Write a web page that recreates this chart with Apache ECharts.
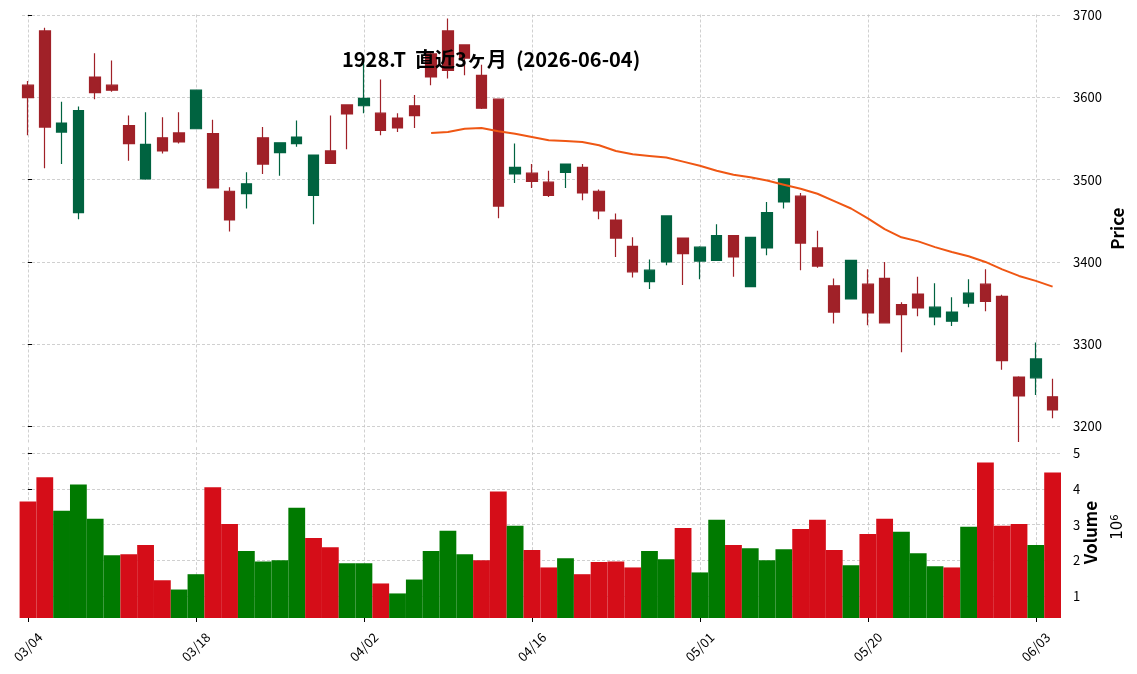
<!DOCTYPE html>
<html><head><meta charset="utf-8">
<script src="https://cdn.jsdelivr.net/npm/echarts@6/dist/echarts.min.js"></script>
<style>html,body{margin:0;padding:0;background:#fff}#c{width:1137px;height:674px}</style>
</head><body><div id="c"></div>
<script>
// ---- data ----
const dates = ['03/04','03/05','03/06','03/09','03/10','03/11','03/12','03/13','03/16','03/17',
  '03/18','03/19','03/23','03/24','03/25','03/26','03/27','03/30','03/31','04/01',
  '04/02','04/03','04/06','04/07','04/08','04/09','04/10','04/13','04/14','04/15',
  '04/16','04/17','04/20','04/21','04/22','04/23','04/24','04/27','04/28','04/30',
  '05/01','05/07','05/08','05/11','05/12','05/13','05/14','05/15','05/18','05/19',
  '05/20','05/21','05/22','05/25','05/26','05/27','05/28','05/29','06/01','06/02',
  '06/03','06/04'];
const opens  = [3615,3681,3558,3460,3625,3615,3566,3501,3551,3557,
  3562,3556,3486,3483,3551,3533,3544,3481,3535,3591,
  3590,3581,3575,3590,3653,3681,3664,3627,3598,3507,
  3508,3497,3509,3515,3486,3451,3419,3376,3400,3429,
  3401,3402,3432,3370,3417,3473,3480,3417,3371,3355,
  3373,3380,3348,3361,3333,3328,3350,3373,3358,3260,
  3259,3236];
const closes = [3600,3564,3569,3584,3606,3609,3544,3543,3535,3546,
  3609,3490,3451,3495,3519,3545,3552,3530,3520,3580,
  3599,3560,3563,3578,3625,3633,3648,3587,3468,3515,
  3498,3481,3519,3484,3462,3429,3388,3390,3456,3410,
  3418,3432,3406,3430,3460,3501,3423,3395,3339,3402,
  3338,3326,3336,3344,3345,3339,3362,3352,3280,3237,
  3282,3220];
const lows   = [3554,3514,3519,3452,3598,3607,3523,3500,3532,3544,
  3562,3490,3437,3465,3507,3505,3540,3446,3520,3537,
  3581,3554,3558,3563,3615,3623,3627,3586,3453,3496,
  3490,3479,3490,3475,3452,3406,3381,3367,3396,3372,
  3379,3402,3382,3370,3408,3465,3390,3393,3325,3355,
  3323,3326,3290,3334,3323,3322,3345,3340,3269,3181,
  3238,3210];
const highs  = [3620,3685,3595,3589,3654,3645,3578,3582,3576,3582,
  3609,3573,3491,3509,3564,3545,3572,3530,3578,3591,
  3650,3622,3581,3603,3656,3696,3664,3640,3598,3544,
  3519,3511,3519,3519,3488,3459,3430,3403,3456,3429,
  3419,3446,3432,3430,3473,3501,3484,3438,3380,3402,
  3391,3400,3351,3382,3374,3357,3379,3391,3360,3261,
  3302,3258];
const volumes = [3.65,4.33,3.39,4.13,3.17,2.14,2.17,2.43,1.44,1.18,
  1.61,4.05,3.02,2.26,1.97,2.00,3.48,2.63,2.37,1.92,
  1.92,1.35,1.07,1.46,2.26,2.83,2.17,2.00,3.93,2.97,
  2.29,1.80,2.06,1.61,1.95,1.97,1.80,2.26,2.03,2.91,
  1.66,3.14,2.43,2.34,2.00,2.31,2.88,3.14,2.29,1.86,
  2.74,3.17,2.80,2.20,1.83,1.80,2.94,4.75,2.97,3.02,
  2.43,4.47]; // x 10^6
const maStart = 24;
const ma25 = [3557,3558,3562,3563,3559,3556,3552,3548,3547,3546,
  3542,3535,3531,3529,3527,3522,3517,3511,3506,3503,
  3499,3494,3489,3483,3474,3465,3453,3440,3430,3425,
  3418,3412,3407,3400,3391,3383,3377,3370];
const xTickIdx = [0,10,20,30,40,50,60];
const priceTicks = [3200,3300,3400,3500,3600,3700];
const volTicks = [1,2,3,4,5];
const titleText = '1928.T  直近3ヶ月  (2026-06-04)';

// ---- layout ----
const X_MIN = -0.357, X_MAX = 61.5;
const PL = 22, PR = 1061, W = 1137;
const band = (PR - PL) / (X_MAX - X_MIN);
const UP = '#006340', DOWN = '#A02128', VUP = '#007a00', VDOWN = '#d50d18', MAC = '#ef5714';
const FONT = '"Noto Sans CJK JP", "Noto Sans", sans-serif';
const gridLine = {show: true, lineStyle: {color: '#c4c4c4', width: 0.8, type: [3, 2]}};

const candleData = opens.map((o, i) => [i, o, closes[i], lows[i], highs[i]]);
const volData = volumes.map((v, i) => {
  const up = i === 0 ? closes[0] >= opens[0] : closes[i] >= closes[i - 1];
  return {value: [i, v], itemStyle: {color: up ? VUP : VDOWN}};
});
const maData = ma25.map((m, k) => [maStart + k, m]);

const chart = echarts.init(document.getElementById('c'), null, {renderer: 'canvas'});
chart.setOption({
  animation: false,
  backgroundColor: '#fff',
  title: {text: titleText, left: 337, top: 44,
    textStyle: {fontFamily: FONT, fontSize: 20, fontWeight: 'bold', color: '#000'}},
  grid: [
    {left: PL, right: W - PR, top: 14.5, height: 428.3},
    {left: PL, right: W - PR, top: 447.1, height: 170.9}
  ],
  xAxis: [
    {type: 'value', gridIndex: 0, min: X_MIN, max: X_MAX,
      axisLine: {show: false}, axisTick: {show: false, customValues: xTickIdx},
      axisLabel: {show: false, customValues: xTickIdx}, splitLine: gridLine},
    {type: 'value', gridIndex: 1, min: X_MIN, max: X_MAX,
      axisLine: {show: false},
      axisTick: {show: true, length: 4, customValues: xTickIdx, lineStyle: {color: '#000', width: 1}},
      axisLabel: {show: true, customValues: xTickIdx, rotate: 45, align: 'center', verticalAlign: 'middle',
        margin: 29, fontFamily: FONT, fontSize: 13, color: '#000',
        formatter: v => dates[Math.round(v)] || ''},
      splitLine: gridLine}
  ],
  yAxis: [
    {type: 'value', gridIndex: 0, position: 'right', min: 3180, max: 3701,
      axisLine: {show: false},
      axisTick: {show: true, length: 4, customValues: priceTicks, lineStyle: {color: '#000'}},
      axisLabel: {customValues: priceTicks, margin: 12, fontFamily: FONT, fontSize: 13, color: '#000',
        formatter: v => String(v)},
      splitLine: gridLine,
      name: 'Price', nameLocation: 'middle', nameRotate: 90, nameGap: 48, nameMoveOverlap: false,
      nameTextStyle: {fontFamily: FONT, fontSize: 17, fontWeight: 'bold', color: '#000'}},
    {type: 'value', gridIndex: 1, position: 'right', min: 0.38, max: 5.18,
      axisLine: {show: false},
      axisTick: {show: true, length: 4, customValues: volTicks, lineStyle: {color: '#000'}},
      axisLabel: {customValues: volTicks, margin: 12, fontFamily: FONT, fontSize: 13, color: '#000',
        formatter: v => String(v)},
      splitLine: gridLine,
      name: 'Volume', nameLocation: 'middle', nameRotate: 90, nameGap: 21, nameMoveOverlap: false,
      nameTextStyle: {fontFamily: FONT, fontSize: 17, fontWeight: 'bold', color: '#000'}}
  ],
  graphic: [{
    type: 'text', x: 1118, y: 527, rotation: Math.PI / 2,
    style: {text: '{b|10}{s|6}', align: 'center', verticalAlign: 'middle',
      rich: {b: {fontFamily: 'DejaVu Sans', fontSize: 15, fill: '#000'},
             s: {fontFamily: 'DejaVu Sans', fontSize: 10, fill: '#000', verticalAlign: 'top', padding: [0, 0, 6, 0]}}}
  }],
  series: [
    {type: 'candlestick', xAxisIndex: 0, yAxisIndex: 0, barWidth: 11, data: candleData,
      itemStyle: {color: UP, color0: DOWN, borderColor: UP, borderColor0: DOWN, borderWidth: 1.2}},
    {type: 'line', xAxisIndex: 0, yAxisIndex: 0, data: maData, showSymbol: false,
      lineStyle: {color: MAC, width: 2}, z: 3},
    {type: 'bar', xAxisIndex: 1, yAxisIndex: 1, barWidth: band, clip: true, data: volData}
  ]
});
</script></body></html>
